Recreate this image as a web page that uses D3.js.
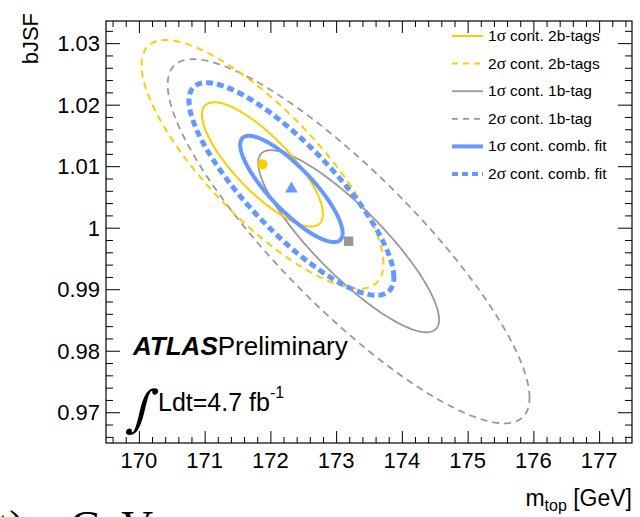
<!DOCTYPE html>
<html>
<head>
<meta charset="utf-8">
<script src="https://cdn.jsdelivr.net/npm/d3@7"></script>
<style>
  body { margin: 0; background: #fff; }
  svg { display: block; font-family: "Liberation Sans", Arial, sans-serif; }
</style>
</head>
<body>
<svg id="chart" width="640" height="517"></svg>
<script>
// axis ticks
const mtopTicks = [170, 171, 172, 173, 174, 175, 176, 177];
const bjsfTicks = [0.97, 0.98, 0.99, 1, 1.01, 1.02, 1.03];

// fit results: 2b-tags, 1b-tag, combined
const fitNames = ["2b-tags", "1b-tag", "comb. fit"];
const centerMtop = [171.88, 173.19, 172.32];
const centerBjsf = [1.0103, 0.9978, 1.0063];
const sigmaMtop = [0.92, 1.376, 0.779];
const sigmaBjsf = [0.0101, 0.0148, 0.00864];
const corr = [-0.80, -0.86, -0.83];
const fitColors = ["#ffcc00", "#999999", "#6699ff"];

// contour levels drawn for every fit
const levels = [1, 2];

const svg = d3.select("#chart");
const frame = { left: 106, right: 632, top: 21, bottom: 443 };

const x = d3.scaleLinear().domain([169.5, 177.5]).range([frame.left, frame.right]);
const y = d3.scaleLinear().domain([0.965, 1.0336]).range([frame.bottom, frame.top]);

svg.append("clipPath").attr("id", "clip")
  .append("rect")
  .attr("x", frame.left).attr("y", frame.top)
  .attr("width", frame.right - frame.left).attr("height", frame.bottom - frame.top);

// ROOT-style ticks on all four sides, pointing inwards
const xMinor = d3.range(169.6, 177.5, 0.2).filter(v => Math.abs(v - Math.round(v)) > 0.05);
const yMinor = d3.range(0.966, 1.0336, 0.002).filter(v => Math.abs(v * 100 - Math.round(v * 100)) > 0.05);

function tickAxis(axis, size) {
  return axis.tickSizeInner(size).tickSizeOuter(0).tickFormat("");
}

const g = svg.append("g");

g.append("g").attr("transform", `translate(0,${frame.bottom})`)
  .call(tickAxis(d3.axisTop(x).tickValues(mtopTicks), 12));
g.append("g").attr("transform", `translate(0,${frame.bottom})`)
  .call(tickAxis(d3.axisTop(x).tickValues(xMinor), 6));
g.append("g").attr("transform", `translate(0,${frame.top})`)
  .call(tickAxis(d3.axisBottom(x).tickValues(mtopTicks), 12));
g.append("g").attr("transform", `translate(0,${frame.top})`)
  .call(tickAxis(d3.axisBottom(x).tickValues(xMinor), 6));

g.append("g").attr("transform", `translate(${frame.left},0)`)
  .call(tickAxis(d3.axisRight(y).tickValues(bjsfTicks), 14));
g.append("g").attr("transform", `translate(${frame.left},0)`)
  .call(tickAxis(d3.axisRight(y).tickValues(yMinor), 7));
g.append("g").attr("transform", `translate(${frame.right},0)`)
  .call(tickAxis(d3.axisLeft(y).tickValues(bjsfTicks), 14));
g.append("g").attr("transform", `translate(${frame.right},0)`)
  .call(tickAxis(d3.axisLeft(y).tickValues(yMinor), 7));

g.selectAll(".domain").remove();
g.selectAll(".tick line").attr("stroke", "#000").attr("stroke-width", 1);

svg.append("rect")
  .attr("x", frame.left).attr("y", frame.top)
  .attr("width", frame.right - frame.left).attr("height", frame.bottom - frame.top)
  .attr("fill", "none").attr("stroke", "#000").attr("stroke-width", 1.2);

// tick labels
svg.append("g").selectAll("text")
  .data(mtopTicks)
  .join("text")
  .attr("x", d => x(d))
  .attr("y", 468)
  .attr("text-anchor", "middle")
  .attr("font-size", 22)
  .text(d => d);

svg.append("g").selectAll("text")
  .data(bjsfTicks)
  .join("text")
  .attr("x", 100)
  .attr("y", d => y(d))
  .attr("dy", "0.36em")
  .attr("text-anchor", "end")
  .attr("font-size", 22)
  .text(d => d);

// axis titles
svg.append("text")
  .attr("transform", "translate(38,13) rotate(-90)")
  .attr("text-anchor", "end")
  .attr("font-size", 22)
  .text("bJSF");

const xTitle = svg.append("text")
  .attr("x", frame.right)
  .attr("y", 506)
  .attr("text-anchor", "end")
  .attr("font-size", 23);
xTitle.append("tspan").text("m");
xTitle.append("tspan").attr("font-size", 16).attr("dy", 5).text("top");
xTitle.append("tspan").attr("dy", -5).text(" [GeV]");

// contour ellipses
function ellipse(i, k) {
  const rho = corr[i];
  return d3.range(0, 2 * Math.PI, Math.PI / 90).map(t => [
    centerMtop[i] + k * sigmaMtop[i] * Math.cos(t),
    centerBjsf[i] + k * sigmaBjsf[i] * (rho * Math.cos(t) + Math.sqrt(1 - rho * rho) * Math.sin(t))
  ]);
}

const line = d3.line()
  .x(d => x(d[0]))
  .y(d => y(d[1]))
  .curve(d3.curveLinearClosed);

const lineStyle = [
  { 1: { w: 2, dash: null }, 2: { w: 2, dash: "7,5" } },
  { 1: { w: 1.8, dash: null }, 2: { w: 1.8, dash: "7,5" } },
  { 1: { w: 4, dash: null }, 2: { w: 5, dash: "7,4" } }
];

const plot = svg.append("g").attr("clip-path", "url(#clip)");
const drawOrder = [1, 0, 2];
drawOrder.forEach(i => {
  levels.slice().reverse().forEach(k => {
    plot.append("path")
      .attr("d", line(ellipse(i, k)))
      .attr("fill", "none")
      .attr("stroke", fitColors[i])
      .attr("stroke-width", lineStyle[i][k].w)
      .attr("stroke-dasharray", lineStyle[i][k].dash);
  });
});

// central values
const markerTypes = [d3.symbolCircle, d3.symbolSquare, d3.symbolTriangle];
const markerSizes = [80, 90, 70];
plot.selectAll("path.marker")
  .data(d3.range(fitNames.length))
  .join("path")
  .attr("class", "marker")
  .attr("transform", i => `translate(${x(centerMtop[i])},${y(centerBjsf[i])})`)
  .attr("d", i => d3.symbol(markerTypes[i], markerSizes[i])())
  .attr("fill", i => fitColors[i]);

// legend
const legendEntries = [];
[0, 1, 2].forEach(i => levels.forEach(k => legendEntries.push({ i, k })));

const legend = svg.append("g");
legendEntries.forEach((e, j) => {
  const ly = 36 + j * 27.6;
  const st = lineStyle[e.i][e.k];
  legend.append("line")
    .attr("x1", 452).attr("x2", 483)
    .attr("y1", ly).attr("y2", ly)
    .attr("stroke", fitColors[e.i])
    .attr("stroke-width", e.i === 2 ? 4 : st.w)
    .attr("stroke-dasharray", e.k === 2 ? (e.i === 2 ? "6,4" : "6,5") : null);
  const t = legend.append("text")
    .attr("x", 488).attr("y", ly + 5)
    .attr("font-size", 15.5);
  t.append("tspan").text(e.k);
  t.append("tspan").attr("font-family", "Liberation Serif, serif").attr("font-size", 17).text("σ");
  t.append("tspan").text(" cont. " + fitNames[e.i]);
});

// ATLAS label
const atlas = svg.append("text").attr("x", 133).attr("y", 355).attr("font-size", 26);
atlas.append("tspan").attr("font-weight", "bold").attr("font-style", "italic").text("ATLAS");
atlas.append("tspan").text("Preliminary");

svg.append("text")
  .attr("transform", "translate(126,426) skewX(-12)")
  .attr("font-family", "DejaVu Serif, serif")
  .attr("font-size", 50)
  .text("∫");

const lumi = svg.append("text").attr("x", 158).attr("y", 411).attr("font-size", 25);
lumi.append("tspan").text("Ldt=4.7 fb");
lumi.append("tspan").attr("font-size", 16).attr("dy", -13).text("-1");

// stray caption fragment cut off at the bottom edge
svg.append("text")
  .attr("x", -3).attr("y", 541)
  .attr("font-family", "Liberation Serif, serif")
  .attr("font-size", 44)
  .text("t)");
svg.append("text")
  .attr("x", 70).attr("y", 541)
  .attr("font-family", "Liberation Serif, serif")
  .attr("font-size", 44)
  .text("GeV");
</script>
</body>
</html>
